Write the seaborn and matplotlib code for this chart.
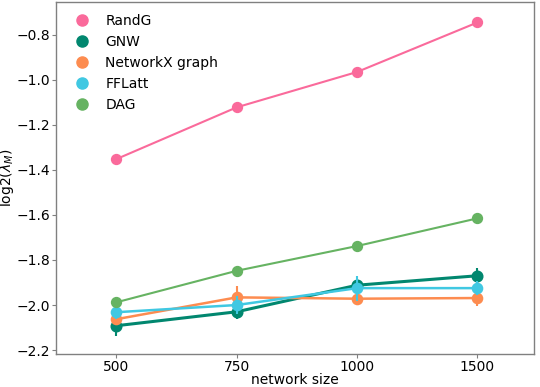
import numpy as np
import pandas as pd
import seaborn as sns
import matplotlib
matplotlib.use("Agg")
import matplotlib.pyplot as plt
from matplotlib.lines import Line2D

sizes = ["500", "750", "1000", "1500"]
methods = ["RandG", "GNW", "NetworkX graph", "FFLatt", "DAG"]

randg = [-1.352, -1.122, -0.965, -0.745]
gnw = [-2.092, -2.030, -1.912, -1.870]
networkx = [-2.063, -1.966, -1.972, -1.969]
fflatt = [-2.032, -2.000, -1.925, -1.925]
dag = [-1.988, -1.848, -1.738, -1.615]

# half-length of the error bars
randg_err = [0.0, 0.0, 0.0, 0.0]
gnw_err = [0.045, 0.03, 0.02, 0.035]
networkx_err = [0.02, 0.05, 0.025, 0.035]
fflatt_err = [0.03, 0.04, 0.055, 0.03]
dag_err = [0.0, 0.0, 0.0, 0.0]

colors = ["#fa6a9b", "#01876f", "#fd8c50", "#40c8e2", "#66b362"]
widths = [1.5, 2.2, 1.8, 1.8, 1.5]

means = [randg, gnw, networkx, fflatt, dag]
errs = [randg_err, gnw_err, networkx_err, fflatt_err, dag_err]

df = pd.DataFrame({
    "network size": np.tile(sizes, len(methods)),
    "value": np.concatenate(means),
    "method": np.repeat(methods, len(sizes)),
})

sns.set_style("white")
plt.rcParams["font.family"] = ["DejaVu Sans"]
plt.rcParams["text.color"] = "black"
plt.rcParams["axes.labelcolor"] = "black"

fig, ax = plt.subplots(figsize=(5.4, 3.87), dpi=100)
fig.subplots_adjust(left=0.104, right=0.989, top=0.995, bottom=0.085)

for name, c, lw, e in zip(methods, colors, widths, errs):
    sub = df[df["method"] == name]
    sns.pointplot(data=sub, x="network size", y="value", order=sizes,
                  color=c, errorbar=None, markersize=7, linewidth=lw, ax=ax)
    ax.errorbar(np.arange(len(sizes)), sub["value"].values, yerr=e,
                fmt="none", ecolor=c, elinewidth=1.5, capsize=0)

ax.set_ylim(-2.218, -0.654)
ax.set_xlim(-0.5, 3.47)
ax.set_yticks([-2.2, -2.0, -1.8, -1.6, -1.4, -1.2, -1.0, -0.8])
ax.set_xlabel("network size", fontsize=10, labelpad=-1)
ax.set_ylabel(r"log2($\lambda_M$)", fontsize=10)
ax.yaxis.set_label_coords(-0.083, 0.5)
ax.tick_params(axis="both", labelsize=10, length=3, width=0.8,
               color="#808080", labelcolor="black", bottom=True, left=True,
               pad=1.5)
for sp in ax.spines.values():
    sp.set_color("#808080")
    sp.set_linewidth(1.0)

handles = [Line2D([], [], linestyle="none", marker="o", markersize=8,
                  color=c) for c in colors]
ax.legend(handles, methods, loc="upper left", frameon=False, fontsize=10,
          handletextpad=0.7, labelspacing=0.5, borderaxespad=0.45)

plt.savefig("out.png", dpi=100)
